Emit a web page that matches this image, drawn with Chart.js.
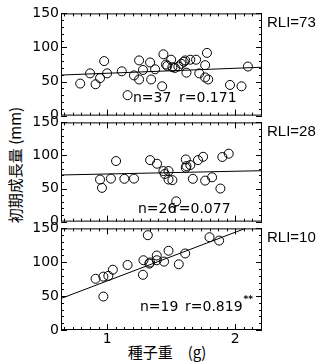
<!DOCTYPE html>
<html><head><meta charset="utf-8">
<script src="https://cdn.jsdelivr.net/npm/chart.js@4"></script>
<style>
html,body{margin:0;padding:0;background:#fff;}
#wrap{position:relative;width:321px;height:362px;overflow:hidden;background:#fff;}
canvas{position:absolute;left:0;}
.lbl{position:absolute;white-space:nowrap;color:#000;font-family:"Noto Sans CJK JP";line-height:1;}
</style></head>
<body>
<div id="wrap">
  <div id="ytitle" class="lbl">初期成長量 (mm)</div>
  <div id="xtitle" class="lbl">種子重　(g)</div>
  <canvas id="c1" width="321" height="123" style="top:3px"></canvas>
  <canvas id="c2" width="321" height="120" style="top:112px"></canvas>
  <canvas id="c3" width="321" height="144" style="top:218px"></canvas>
</div>
<script>
// ---- data ----
const xTickLabels = [1, 2];
const yTickValues = [0, 50, 100, 150];
const panelLabels = ["RLI=73", "RLI=28", "RLI=10"];
const statN = ["n=37", "n=26", "n=19"];
const statR = ["r=0.171", "r=0.077", "r=0.819"];
const statStars = ["", "", "**"];

const seedWeight73 = [0.79,0.867,0.91,0.945,0.977,1.0,1.115,1.16,1.21,1.25,1.25,1.28,1.336,1.344,1.375,1.43,1.44,1.46,1.50,1.51,1.557,1.58,1.61,1.62,1.65,1.695,1.72,1.766,1.78,1.766,1.79,1.96,2.05,2.10,1.47,1.60,1.53];
const growth73     = [47,62,46,55,80,62,65,30,59,81,53,67,78,53,68,43,90,75,82,71,72,76,81,63,82,82,62,74,92,56,53,45,43,72,73,79,70];
const fitX73 = [0.64, 2.21];
const fitY73 = [59.5, 71];

const seedWeight28 = [0.945,0.96,1.07,1.03,1.135,1.21,1.336,1.39,1.44,1.48,1.48,1.51,1.54,1.615,1.615,1.65,1.67,1.71,1.75,1.766,1.82,1.885,1.9,1.95,1.45,1.62];
const growth28     = [63.6,51,91.6,65,64.7,65,93,87.5,76.4,76.4,63.6,62.7,30.7,94,81.4,85.5,64.7,93,98,62,67,50,97.7,102.7,72,84];
const fitX28 = [0.64, 2.21];
const fitY28 = [70.5, 77];

const seedWeight10 = [0.91,0.971,0.971,1.01,1.045,1.16,1.28,1.284,1.318,1.336,1.388,1.388,1.445,1.48,1.56,1.61,1.80,1.875,1.33];
const growth10     = [75.6,78.8,49.4,80,89,96,81.5,103,140,99.7,110,103,101,117,97,113,137,132,98];
const fitX10 = [0.64, 2.08];
const fitY10 = [46.5, 150];

// ---- layout / style ----
const X_MIN = 0.64, X_MAX = 2.21;
const NUM_FONT = {family: "DejaVu Sans", size: 14};

const yt = document.getElementById('ytitle');
yt.style.fontSize = '15px';
yt.style.left = '14px'; yt.style.top = '165px';
yt.style.transform = 'translate(-50%,-50%) rotate(-90deg)';
const xt = document.getElementById('xtitle');
xt.style.fontSize = '15px';
xt.style.left = '167px'; xt.style.top = '351px';
xt.style.transform = 'translate(-50%,-50%)';

function pts(xs, ys){ return xs.map((x,i)=>({x, y: ys[i]})); }

const framePlugin = {
  id: 'frame',
  afterDatasetsDraw(chart, args, o) {
    const {ctx, chartArea:{left,right,top,bottom}, scales:{x,y}} = chart;
    ctx.save();
    ctx.strokeStyle = '#000'; ctx.lineWidth = 1;
    ctx.strokeRect(left+0.5, top+0.5, right-left-1, bottom-top-1);
    ctx.beginPath();
    for (let v = 0; v <= 150; v += 10) {
      const py = Math.round(y.getPixelForValue(v)) + 0.5;
      const len = v % 50 === 0 ? 6 : 3;
      ctx.moveTo(left, py); ctx.lineTo(left+len, py);
      ctx.moveTo(right, py); ctx.lineTo(right-len, py);
    }
    for (let k = -10; k <= 20; k++) {
      const v = 1 + k/15;
      if (v <= x.min || v >= x.max) continue;
      const px = Math.round(x.getPixelForValue(v)) + 0.5;
      const len = k % 15 === 0 ? 6 : 3;
      ctx.moveTo(px, top); ctx.lineTo(px, top+len);
      ctx.moveTo(px, bottom); ctx.lineTo(px, bottom-len);
    }
    ctx.stroke();
    // texts
    ctx.fillStyle = '#000';
    ctx.textBaseline = 'middle';
    ctx.textAlign = 'left';
    ctx.font = '15px "Liberation Sans"';
    ctx.fillText(o.rli, right + 5, top + 9);
    ctx.font = '14px "DejaVu Sans"';
    ctx.fillText(o.n, o.nx, bottom - o.dy);
    ctx.fillText(o.r, o.rx, bottom - o.dy);
    if (o.stars) {
      ctx.font = '14px "DejaVu Sans"';
      const w = ctx.measureText(o.r).width;
      ctx.font = 'bold 9px "DejaVu Sans"';
      ctx.fillText(o.stars, o.rx + w + 1, bottom - o.dy - 7);
    }
    ctx.restore();
  }
};

function makeChart(id, xs, ys, fx, fy, idx, showX, txt) {
  const canvas = document.getElementById(id);
  return new Chart(canvas, {
    data: {
      datasets: [
        { type: 'line', data: pts(fx, fy), borderColor: '#000', borderWidth: 1,
          pointRadius: 0, fill: false, tension: 0 },
        { type: 'scatter', data: pts(xs, ys), pointStyle: 'circle', pointRadius: 4.5,
          borderColor: '#000', borderWidth: 1, backgroundColor: 'rgba(255,255,255,0)' }
      ]
    },
    options: {
      responsive: false, maintainAspectRatio: false, animation: false,
      events: [],
      layout: { padding: { top: 10, left: 0, right: 59, bottom: showX ? 0 : 10 } },
      plugins: { legend: {display:false}, tooltip: {enabled:false},
        frame: Object.assign({ rli: panelLabels[idx], n: statN[idx], r: statR[idx], stars: statStars[idx] }, txt) },
      scales: {
        x: {
          type: 'linear', min: X_MIN, max: X_MAX, display: showX,
          grid: { display: false, drawTicks: false }, border: { display: false },
          afterBuildTicks: s => { s.ticks = xTickLabels.map(v => ({value: v})); },
          afterFit: s => { s.height = showX ? 32 : 0; },
          ticks: { font: NUM_FONT, color: '#000', padding: 1, maxRotation: 0,
                   callback: v => String(v) }
        },
        y: {
          type: 'linear', min: 0, max: 150,
          grid: { display: false, drawTicks: false }, border: { display: false },
          afterBuildTicks: s => { s.ticks = yTickValues.map(v => ({value: v})); },
          afterFit: s => { s.width = 61; },
          ticks: { font: NUM_FONT, color: '#000', padding: 2 }
        }
      }
    },
    plugins: [framePlugin]
  });
}

makeChart('c1', seedWeight73, growth73, fitX73, fitY73, 0, false, { nx: 133, rx: 179, dy: 17 });
makeChart('c2', seedWeight28, growth28, fitX28, fitY28, 1, false, { nx: 138, rx: 173, dy: 12 });
makeChart('c3', seedWeight10, growth10, fitX10, fitY10, 2, true,  { nx: 140, rx: 185, dy: 23 });
</script>
</body></html>
